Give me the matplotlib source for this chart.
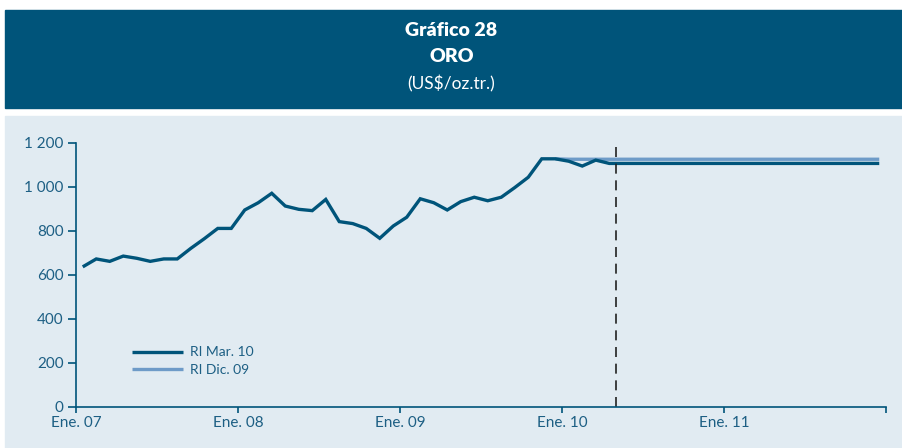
import matplotlib.pyplot as plt
import matplotlib.patches as patches
import numpy as np

plt.rcParams['font.family'] = ['Lato', 'DejaVu Sans']

# precio mensual del oro, ene-07 a dic-11 (US$/oz.tr.)
historia = [636, 672, 661, 685, 675, 661, 672, 672, 720, 764, 811, 811,
            895, 928, 971, 913, 898, 892, 943, 842, 833, 811, 766, 822,
            862, 946, 928, 895, 933, 953, 937, 953, 997, 1044, 1128, 1128]
ri_mar10_extra = [1117, 1095, 1122, 1107] + [1107] * 20
ri_dic09_extra = [1126] * 24

ri_mar10 = historia + ri_mar10_extra
ri_dic09 = historia + ri_dic09_extra

etiquetas = ['Ene. 07', 'Ene. 08', 'Ene. 09', 'Ene. 10', 'Ene. 11', '']
corte = 40  # inicio de la proyeccion

azul = '#00547a'
celeste = '#6e9bc8'
texto = '#1d5f84'

x = np.arange(len(ri_mar10)) + 0.5

fig = plt.figure(figsize=(9.03, 4.48), dpi=100)
fig.patch.set_facecolor('white')

# banner y fondo
fig.add_artist(patches.Rectangle((5 / 903, 1 - 108 / 448), 898 / 903, 98 / 448,
                                 transform=fig.transFigure, color=azul, zorder=0))
fig.add_artist(patches.Rectangle((5 / 903, 0), 898 / 903, 1 - 116 / 448,
                                 transform=fig.transFigure, color='#e1ebf2', zorder=0))

fig.text(0.5, 1 - 30 / 448, 'Gráfico 28', color='white', fontsize=14,
         fontweight='heavy', ha='center', va='center')
fig.text(0.5, 1 - 57 / 448, 'ORO', color='white', fontsize=14,
         fontweight='heavy', ha='center', va='center')
fig.text(0.5, 1 - 84 / 448, '(US$/oz.tr.)', color='white', fontsize=12.5,
         ha='center', va='center')

ax = fig.add_axes([76 / 903, 1 - 406.5 / 448, 810 / 903, 263.5 / 448])
ax.set_facecolor('none')

ax.plot(x[35:], ri_dic09[35:], color=celeste, lw=2.4, label='RI Dic. 09',
        solid_capstyle='butt')
ax.plot(x, ri_mar10, color=azul, lw=2.4, label='RI Mar. 10',
        solid_capstyle='butt', solid_joinstyle='miter')
ax.axvline(corte, ymin=0, ymax=1195 / 1200, color='#222222', lw=1.2,
           dashes=(6, 4))

ax.set_xlim(0, 60)
ax.set_ylim(0, 1200)
ax.set_xticks(np.arange(0, 61, 12))
ax.set_xticklabels(etiquetas)
ax.set_yticks(np.arange(0, 1201, 200))
ax.set_yticklabels(['0', '200', '400', '600', '800', '1 000', '1 200'])

for s in ['top', 'right']:
    ax.spines[s].set_visible(False)
for s in ['left', 'bottom']:
    ax.spines[s].set_color(azul)
    ax.spines[s].set_linewidth(1.2)
ax.tick_params(axis='y', colors=azul, labelcolor=texto, length=6, width=1.2,
               labelsize=11, pad=3)
ax.tick_params(axis='x', colors=azul, labelcolor=texto, length=4, width=1.2,
               labelsize=11, pad=3)

h, l = ax.get_legend_handles_labels()
ax.legend(h[::-1], l[::-1], loc='upper left', bbox_to_anchor=(0.069, 0.228),
          frameon=False, fontsize=10, handlelength=3.7, handletextpad=0.5,
          labelspacing=0.4, borderpad=0, borderaxespad=0, labelcolor=texto)

fig.savefig('out.png', dpi=100)
